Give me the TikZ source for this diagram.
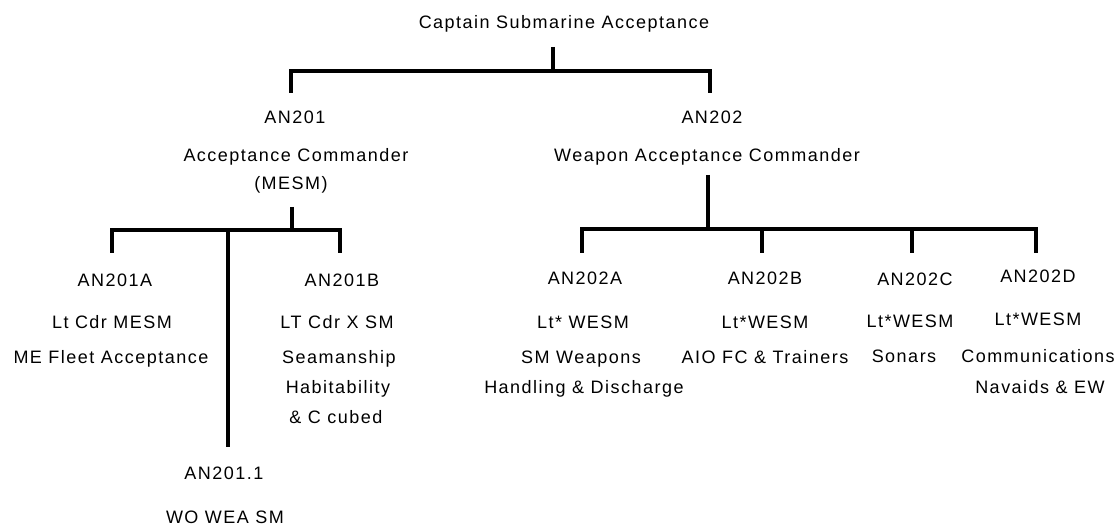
\documentclass[tikz,border=0pt]{standalone}
\usepackage{fontspec}
\newfontfamily\chartfont{Liberation Sans}[LetterSpace=8.3]
\begin{document}
\begin{tikzpicture}[x=1pt,y=-1pt,
  lbl/.style={anchor=base, inner sep=0pt, font=\chartfont\fontsize{18}{21}\selectfont},
  bar/.style={line width=4pt, line join=miter, line cap=butt}]
\useasboundingbox (0,0) rectangle (1115,526);
% ---- texts ----
\node[lbl] (cap) at (564,29) {Captain Submarine Acceptance};
\node[lbl] (an201) at (295,124) {AN201};
\node[lbl] (an201t) at (296,162) {Acceptance Commander};
\node[lbl] (an201m) at (291,190) {(MESM)};
\node[lbl] (an202) at (712,124) {AN202};
\node[lbl] (an202t) at (707,162) {Weapon Acceptance Commander};
% left group
\node[lbl] (an201a) at (115,287) {AN201A};
\node[lbl] (a1) at (112,328) {Lt Cdr MESM};
\node[lbl] (a2) at (111,363) {ME Fleet Acceptance};
\node[lbl] (an201b) at (342,287) {AN201B};
\node[lbl] (b1) at (337,328) {LT Cdr X SM};
\node[lbl] (b2) at (339,363) {Seamanship};
\node[lbl] (b3) at (338,393) {Habitability};
\node[lbl] (b4) at (336,423) {\& C cubed};
\node[lbl] (an2011) at (224,479) {AN201.1};
\node[lbl] (w1) at (225,523) {WO WEA SM};
% right group
\node[lbl] (an202a) at (585,285) {AN202A};
\node[lbl] (ra1) at (583,328) {Lt* WESM};
\node[lbl] (ra2) at (581,363) {SM Weapons};
\node[lbl] (ra3) at (584,393) {Handling \& Discharge};
\node[lbl] (an202b) at (765,285) {AN202B};
\node[lbl] (rb1) at (765,328) {Lt*WESM};
\node[lbl] (rb2) at (765,363) {AIO FC \& Trainers};
\node[lbl] (an202c) at (915,286) {AN202C};
\node[lbl] (rc1) at (910,327) {Lt*WESM};
\node[lbl] (rc2) at (904,362) {Sonars};
\node[lbl] (an202d) at (1038,283) {AN202D};
\node[lbl] (rd1) at (1038,325) {Lt*WESM};
\node[lbl] (rd2) at (1038,362) {Communications};
\node[lbl] (rd3) at (1040,393) {Navaids \& EW};
% ---- connector points ----
\coordinate (capS) at (553,47);
\coordinate (j0) at (553,71);
\coordinate (d201) at (291,93);
\coordinate (d202) at (710,93);
\coordinate (m201) at (292,207);
\coordinate (j1) at (292,230);
\coordinate (da) at (112,253);
\coordinate (db) at (340,253);
\coordinate (jm) at (228,230);
\coordinate (dm) at (228,447);
\coordinate (m202) at (708,175);
\coordinate (j2) at (708,229);
\coordinate (e1) at (582,253);
\coordinate (e2) at (762,253);
\coordinate (e3) at (912,253);
\coordinate (e4) at (1036,253);
% ---- connectors ----
\draw[bar] (capS) -- (j0);
\draw[bar] (d201) |- (j0) -| (d202);
\draw[bar] (m201) -- (j1);
\draw[bar] (da) |- (j1) -| (db);
\draw[bar] (jm) -- (dm);
\draw[bar] (m202) -- (j2);
\draw[bar] (e1) |- (j2) -| (e4);
\draw[bar] (e2) -- (e2 |- j2);
\draw[bar] (e3) -- (e3 |- j2);
\end{tikzpicture}
\end{document}
